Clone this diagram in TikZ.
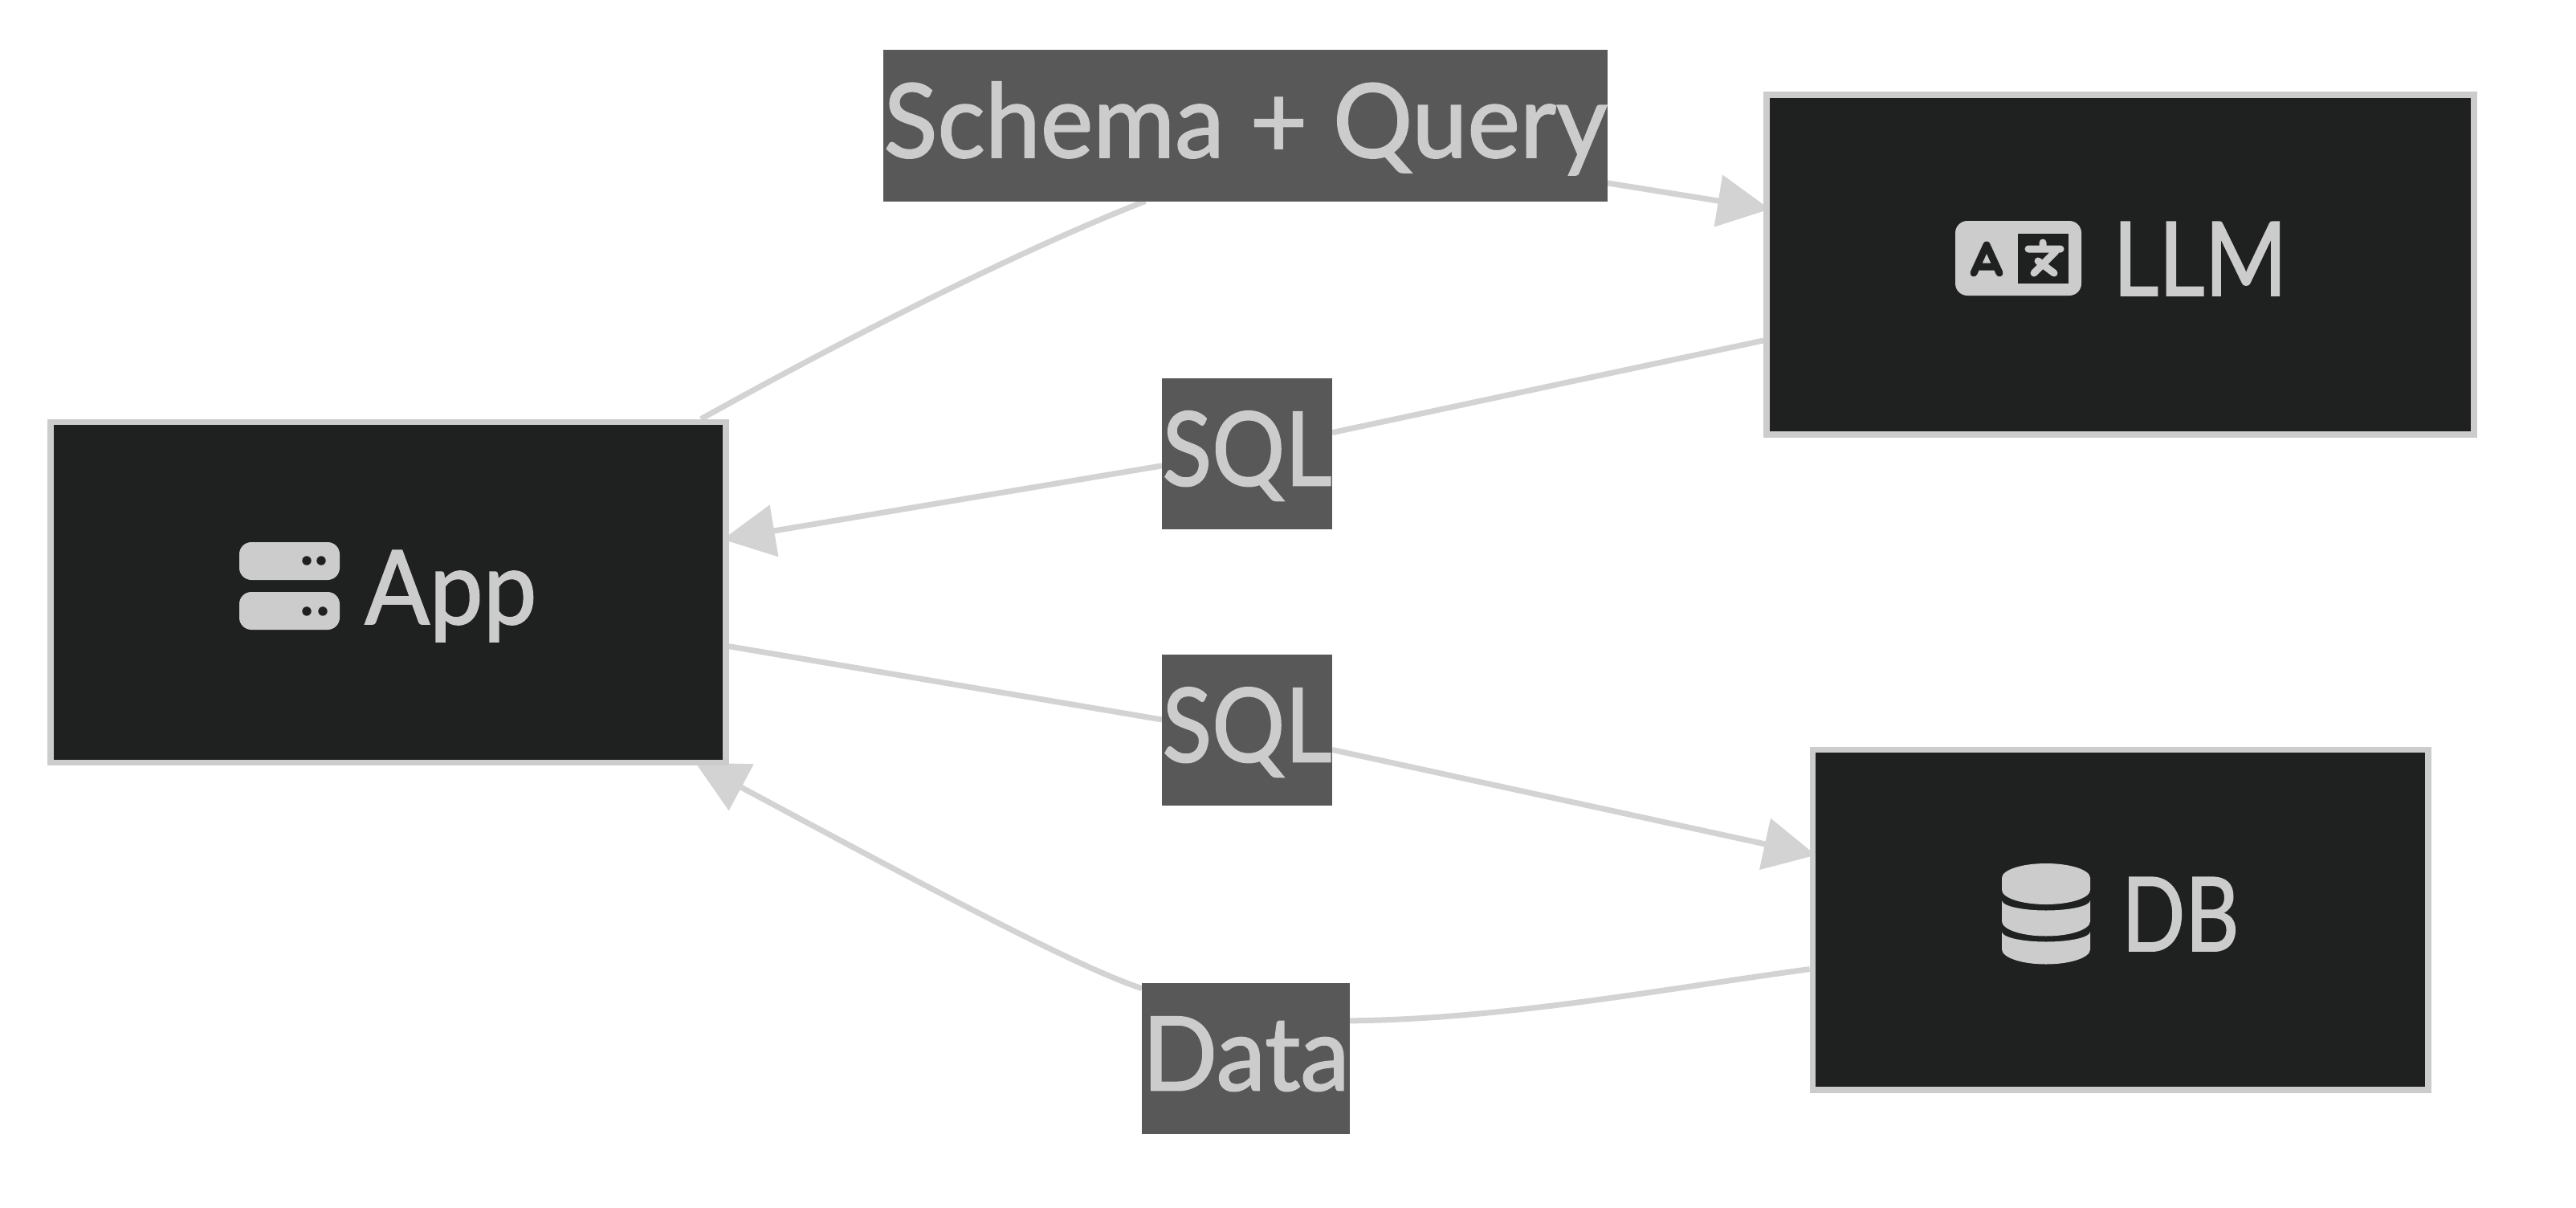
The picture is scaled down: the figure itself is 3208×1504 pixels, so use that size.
\documentclass[tikz,border=0pt]{standalone}
\usepackage{fontspec}
\setmainfont{Lato}[FakeBold=1.5]
\usetikzlibrary{arrows.meta,backgrounds}
\definecolor{boxfill}{HTML}{1F2020}
\definecolor{boxline}{HTML}{CCCCCC}
\definecolor{edgeline}{HTML}{D3D3D3}
\definecolor{lblfill}{HTML}{585858}
\newcommand{\px}{0.02cm}
\newcommand{\wide}[2]{\resizebox{\dimexpr\px*#1\relax}{\height}{#2}}
\tikzset{
  nodebox/.style={rectangle,draw=boxline,fill=boxfill,line width=7.7*\px,inner sep=0pt},
  nodetext/.style={text=boxline,inner sep=0pt,anchor=base west,font=\fontsize{72.8pt}{80pt}\selectfont},
  lblbox/.style={rectangle,fill=lblfill,text=boxline,inner sep=0pt,outer sep=0pt,
    text height=133.5*\px,text depth=54.5*\px,font=\fontsize{72.8pt}{80pt}\selectfont},
  edge/.style={draw=edgeline,line width=7*\px},
  tip/.style={-{Triangle[length=65*\px,width=64*\px]},shorten >=-8*\px},
  icon/.style={fill=boxline},
  icondark/.style={fill=boxfill},
  stroke/.style={line width=9*\px,line cap=round,line join=round}
}

\begin{document}
\begin{tikzpicture}[x=\px,y=\px]
  \useasboundingbox (0,0) rectangle (3208,-1504);
  % main boxes
  \path (483.5,-737.5) node(app) [nodebox,minimum width=841*\px,minimum height=424*\px] {}
    (2640.5,-329.5) node(llm) [nodebox,minimum width=881*\px,minimum height=423*\px] {}
    (2640.75,-1145.25) node(db) [nodebox,minimum width=766.5*\px,minimum height=423.5*\px] {};
  % edge labels
  \path (1551,-156.5) node(schema) [lblbox,minimum width=902*\px] {\wide{901}{Schema + Query}}
    (1553,-565) node(sqlup) [lblbox,minimum width=212*\px] {\wide{211}{SQL}}
    (1553,-909) node(sqldown) [lblbox,minimum width=212*\px] {\wide{211}{SQL}}
    (1551.5,-1318) node(data) [lblbox,minimum width=259*\px] {\wide{258}{Data}};
  % box texts
  \path (454,-777) node(apptext) [nodetext] {\wide{214}{App}}
    (2631,-368) node(llmtext) [nodetext] {\wide{217}{LLM}}
    (2642,-1184) node(dbtext) [nodetext] {\wide{146}{DB}};
  % connectors
  \begin{pgfonlayer}{background}
  \draw[edge] (app.29.1) .. controls +(169,94) and +(-164,-64) .. (schema.217.4);
  \draw[edge,tip] (schema.-9) -- (llm.171.2);
  \draw[edge] (llm.192.4) -- (sqlup.14.3);
  \draw[edge,tip] (sqlup.188) -- (app.9.3);
  \draw[edge] (app.-9.3) -- (sqldown.173);
  \draw[edge,tip] (sqldown.-13.8) -- (db.168.3);
  \draw[edge] (db.189.1) .. controls +(-190,-26) and +(190,2) .. (data.20.3);
  \draw[edge,tip] (data.146.4) .. controls +(-82,27) and +(274,-147) .. (app.-29.4);
  \end{pgfonlayer}
  % server icon
  \fill[icon,rounded corners=15*\px] (298,-675) rectangle (423,-722);
  \fill[icon,rounded corners=15*\px] (298,-737) rectangle (423,-784);
  \foreach \dotx/\doty in {382/698,400/698,382/761,402/761}
    \fill[icondark] (\dotx,-\doty) circle (5.7);
  % language icon
  \fill[icon,rounded corners=15*\px] (2435,-275) rectangle (2592,-368);
  \fill[icondark] (2513,-291) rectangle (2576,-353);
  \draw[stroke,draw=boxfill] (2458,-340) -- (2474,-305) -- (2490,-340) (2465,-332) -- (2483,-332);
  \draw[stroke,draw=boxline] (2526,-310) -- (2566,-310) (2544,-302) -- (2544,-310)
    (2560,-313) -- (2533,-340) (2538,-325) -- (2558,-340);
  % database icon
  \fill[icon] (2493,-1093) arc[start angle=180,end angle=0,x radius=55,y radius=18]
    -- (2603,-1108) arc[start angle=0,end angle=-180,x radius=55,y radius=18] -- cycle;
  \foreach \ytop/\ybot in {1121/1147,1160/1182}
    \fill[icon] (2493,-\ytop) arc[start angle=180,end angle=360,x radius=55,y radius=12.5]
      -- (2603,-\ybot) arc[start angle=0,end angle=-180,x radius=55,y radius=18.5] -- cycle;
\end{tikzpicture}
\end{document}
